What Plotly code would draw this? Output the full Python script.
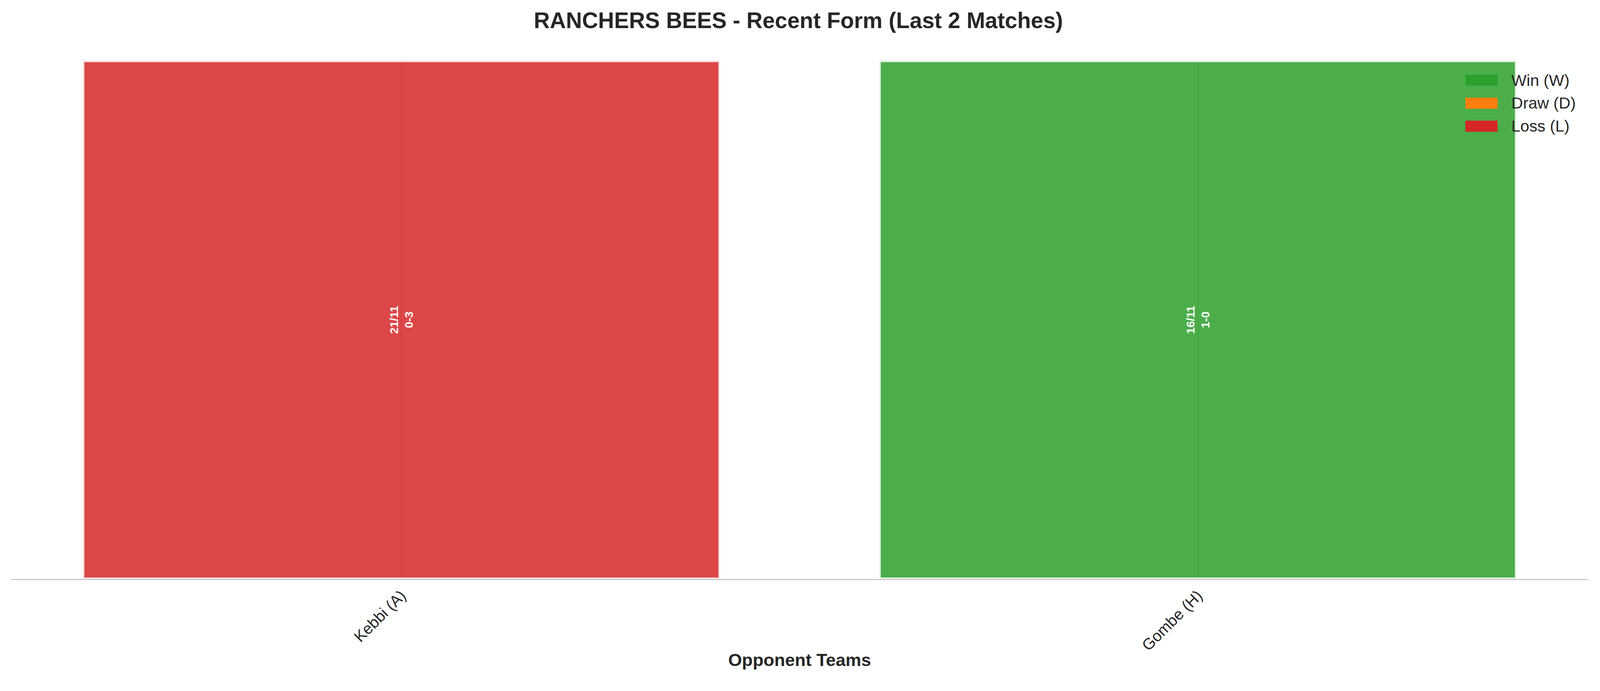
import plotly.graph_objects as go

# recent form data (most recent first)
opponents = ["Kebbi (A)", "Gombe (H)"]
results = ["L", "W"]
match_dates = ["21/11", "16/11"]
scores = ["0-3", "1-0"]
bar_height = [1, 1]

result_colors = {"W": "#2ca02c", "D": "#ff7f0e", "L": "#d62728"}
result_names = {"W": "Win (W)", "D": "Draw (D)", "L": "Loss (L)"}


def hex_to_rgba(hex_color, alpha):
    h = hex_color.lstrip("#")
    r, g, b = int(h[0:2], 16), int(h[2:4], 16), int(h[4:6], 16)
    return f"rgba({r},{g},{b},{alpha})"


W, H = 4170, 1770
M_L, M_R, M_T, M_B = 29, 31, 158, 260
FONT = "Arial, Liberation Sans, DejaVu Sans, sans-serif"
TEXT_COLOR = "#262626"
BAR_ALPHA = 0.85

bar_text = [f"<b>{d}<br>{s}</b>" for d, s in zip(match_dates, scores)]

fig = go.Figure()
fig.add_trace(go.Bar(
    x=opponents,
    y=bar_height,
    text=bar_text,
    textposition="inside",
    insidetextanchor="middle",
    textangle=-90,
    constraintext="none",
    textfont=dict(family=FONT, size=30, color="white"),
    marker=dict(
        color=[hex_to_rgba(result_colors[r], BAR_ALPHA) for r in results],
        line=dict(color=f"rgba(255,255,255,{BAR_ALPHA})", width=8),
    ),
    hoverinfo="skip",
    showlegend=False,
))


# legend drawn by hand so the patches look like the matplotlib ones
def px_to_paper_x(px):
    return (px - M_L) / (W - M_L - M_R)


def px_to_paper_y(py):
    return (H - M_B - py) / (H - M_T - M_B)


shapes = []
annotations = []
for i, key in enumerate(["W", "D", "L"]):
    cy = 209 + 60 * i
    shapes.append(dict(
        type="rect", xref="paper", yref="paper",
        x0=px_to_paper_x(3819), x1=px_to_paper_x(3903),
        y0=px_to_paper_y(cy + 14.5), y1=px_to_paper_y(cy - 14.5),
        fillcolor=result_colors[key], line=dict(width=0), layer="above",
    ))
    annotations.append(dict(
        xref="paper", yref="paper",
        x=px_to_paper_x(3937), y=px_to_paper_y(cy),
        xanchor="left", yanchor="middle", showarrow=False,
        text=result_names[key],
        font=dict(family=FONT, size=42, color=TEXT_COLOR),
    ))

fig.update_layout(
    width=W, height=H, autosize=False,
    margin=dict(l=M_L, r=M_R, t=M_T, b=M_B),
    paper_bgcolor="white", plot_bgcolor="white",
    bargap=0.2,
    title=dict(
        text="<b>RANCHERS BEES - Recent Form (Last 2 Matches)</b>",
        x=0.499, xref="container", xanchor="center",
        y=1 - 53 / H, yref="container", yanchor="middle",
        font=dict(family=FONT, size=58, color=TEXT_COLOR),
    ),
    xaxis=dict(
        type="category",
        range=[-0.49, 1.49],
        tickangle=-45,
        tickfont=dict(family=FONT, size=41, color=TEXT_COLOR),
        showgrid=True, gridcolor="#cccccc", gridwidth=3,
        showline=True, linecolor="#cccccc", linewidth=3,
        ticks="",
        zeroline=False,
        title=dict(
            text="<b>Opponent Teams</b>",
            font=dict(family=FONT, size=46, color=TEXT_COLOR),
            standoff=0,
        ),
    ),
    yaxis=dict(
        range=[0, 1],
        showticklabels=False,
        showgrid=False,
        zeroline=False,
        showline=False,
        ticks="",
    ),
    shapes=shapes,
    annotations=annotations,
    showlegend=False,
)

# drop the page margin and scale the fixed-size figure to the visible window
fit_js = (
    "document.body.style.margin='0';"
    "document.body.style.overflow='hidden';"
    "var gd=document.getElementById('{plot_id}');"
    f"var s=Math.min(window.innerWidth/{W},window.innerHeight/{H});"
    "gd.style.transformOrigin='0 0';"
    "gd.style.transform='scale('+s+')';"
)
fig.write_html("out.html", config={"displayModeBar": False}, post_script=fit_js)
